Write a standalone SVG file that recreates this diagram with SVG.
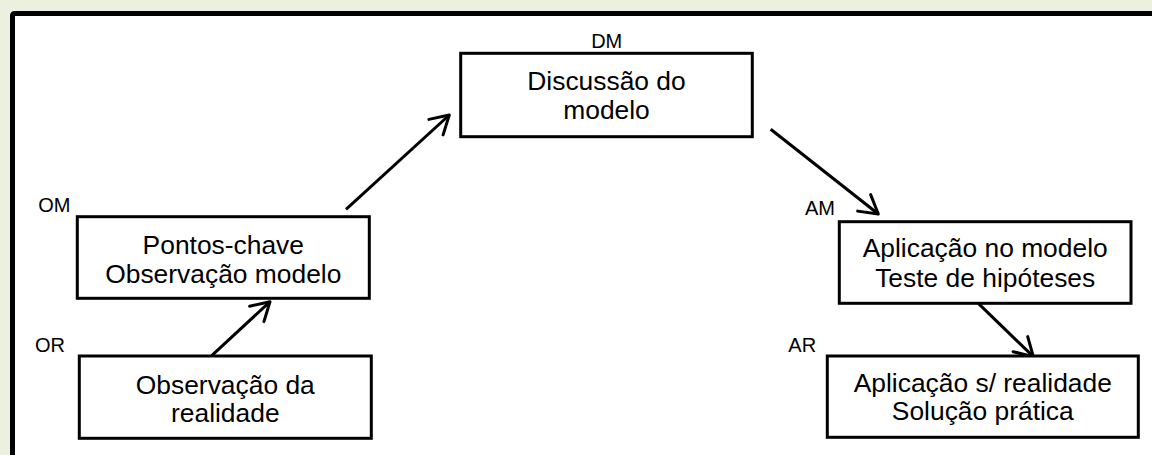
<svg xmlns="http://www.w3.org/2000/svg" width="1152" height="455" viewBox="0 0 1152 455">
<defs>
<style>
.box{fill:#fff;stroke:#000;stroke-width:3}
.t{font-family:"Liberation Sans",Arial,sans-serif;font-size:26.4px;fill:#000;text-anchor:middle}
.lbl{font-family:"Liberation Sans",Arial,sans-serif;font-size:20px;fill:#000}
.conn{stroke:#000;stroke-width:3;fill:none;marker-end:url(#arr)}
</style>
<marker id="arr" markerUnits="userSpaceOnUse" markerWidth="30" markerHeight="30" viewBox="-25 -15 30 30" refX="0" refY="0" orient="auto" overflow="visible">
<path d="M -18 -10.5 L 0 0 L -18 10.5" fill="none" stroke="#000" stroke-width="3" stroke-linecap="round" stroke-linejoin="round"/>
</marker>
</defs>
<rect x="0" y="0" width="1152" height="455" fill="#EBF1DE"/>
<rect x="12.5" y="13.5" width="1200" height="500" rx="2" fill="#fff" stroke="#000" stroke-width="5"/>

<g id="connectors">
<line class="conn" x1="211.7" y1="355.7" x2="270" y2="301.7"/>
<line class="conn" x1="346" y1="209.3" x2="449.3" y2="115"/>
<line class="conn" x1="770.7" y1="129.3" x2="878.3" y2="214"/>
<line class="conn" x1="978.3" y1="303.3" x2="1033.3" y2="356.7"/>
</g>

<g id="DM">
<rect class="box" x="460.7" y="53.3" width="291.6" height="83.4"/>
<text class="lbl" x="606.7" y="48" text-anchor="middle">DM</text>
<text class="t" x="606.5" y="90">Discussão do</text>
<text class="t" x="606.5" y="118.5">modelo</text>
</g>

<g id="OM">
<rect class="box" x="77.3" y="216.7" width="292" height="81.6"/>
<text class="lbl" x="38.3" y="211.7">OM</text>
<text class="t" x="223.3" y="254">Pontos-chave</text>
<text class="t" x="223.3" y="283">Observação modelo</text>
</g>

<g id="OR">
<rect class="box" x="79.3" y="356" width="292" height="82.3"/>
<text class="lbl" x="35" y="352">OR</text>
<text class="t" x="225.3" y="394">Observação da</text>
<text class="t" x="225.3" y="422">realidade</text>
</g>

<g id="AM">
<rect class="box" x="839.3" y="221.7" width="291.7" height="81.6"/>
<text class="lbl" x="805" y="215">AM</text>
<text class="t" x="985.2" y="256.7">Aplicação no modelo</text>
<text class="t" x="985.2" y="286.7">Teste de hipóteses</text>
</g>

<g id="AR">
<rect class="box" x="827.3" y="356" width="311" height="81.3"/>
<text class="lbl" x="788.3" y="352.3">AR</text>
<text class="t" x="982.8" y="391.7">Aplicação s/ realidade</text>
<text class="t" x="982.8" y="420">Solução prática</text>
</g>
</svg>
